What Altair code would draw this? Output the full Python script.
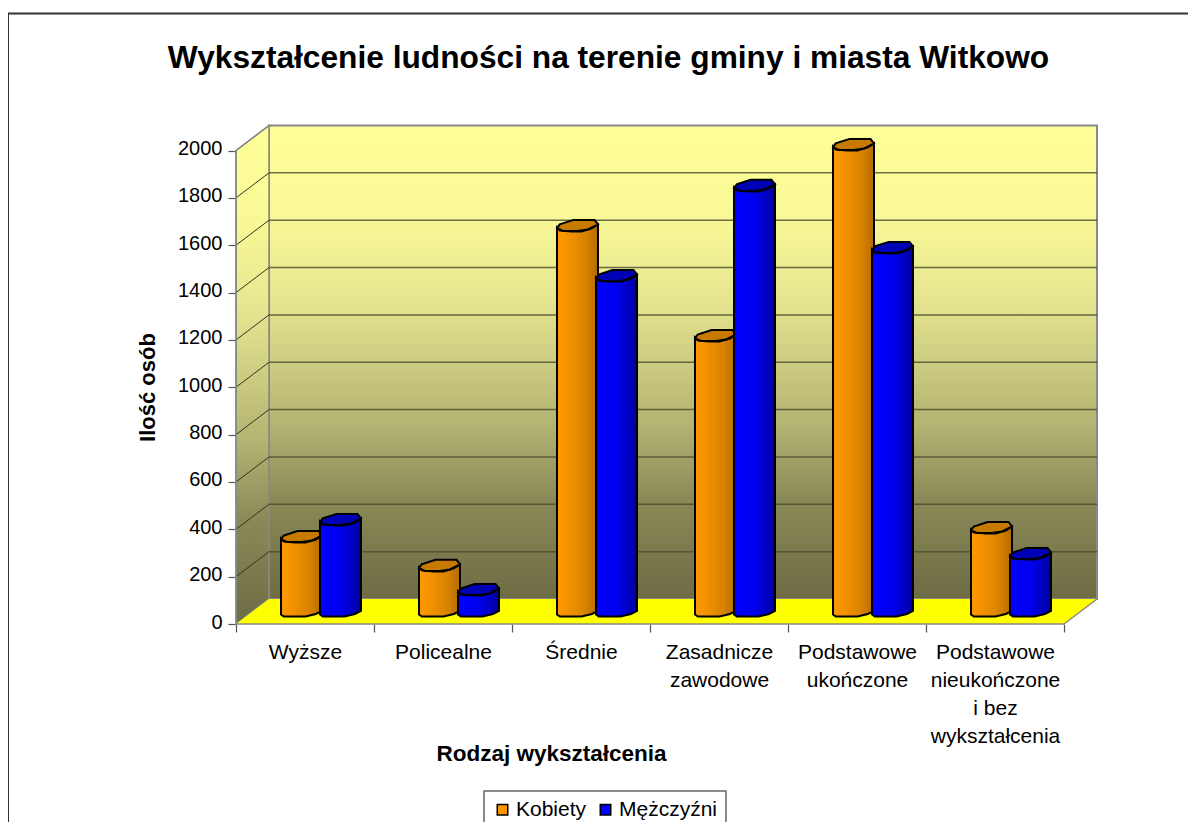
import json
import altair as alt
import pandas as pd

# ---- data ----
categories = ["Wyższe", "Policealne", "Średnie", "Zasadnicze\nzawodowe", "Podstawowe\nukończone",
              "Podstawowe\nnieukończone\ni bez\nwykształcenia"]
kobiety = [321, 199, 1635, 1170, 1977, 359]
mezczyzni = [393, 97, 1423, 1804, 1542, 249]
y_ticks = [0, 200, 400, 600, 800, 1000, 1200, 1400, 1600, 1800, 2000]
SERIES = ["Kobiety", "Mężczyźni"]
TITLE = "Wykształcenie ludności na terenie gminy i miasta Witkowo"

# ---- geometry of the fake 3D frame, in data units ----
PX_X = 138.0
PX_Y = 473.5 / 2000
W, H = 861, 498
D_X = 33 / PX_X
D_Y = 25 / PX_Y
X_MAX = W / PX_X
Y_MAX = H / PX_Y
BASE = 11.5 / PX_Y
BAR_W = 41 / PX_X
OFFS = {"Kobiety": 45 / PX_X, "Mężczyźni": 84 / PX_X}
FONT = "Liberation Sans"

sx = alt.Scale(domain=[0, X_MAX], nice=False, zero=False)
sy = alt.Scale(domain=[0, Y_MAX], nice=False, zero=False)

mid = {str(i + 0.5): c.split("\n") for i, c in enumerate(categories)}
label_expr = "(" + json.dumps(mid, ensure_ascii=False) + ")[''+datum.value] || ''"
x_vals = [i / 2 for i in range(13)]

X_AXIS = alt.Axis(
    title="Rodzaj wykształcenia", values=x_vals, labelExpr=label_expr, grid=False, domain=False,
    tickSize=8, tickColor="#555555", tickWidth=1.2,
    tickOpacity={"condition": {"test": "datum.value % 1 == 0", "value": 1}, "value": 0},
    labelAngle=0, labelAlign="center", labelBaseline="top", labelFont=FONT, labelFontSize=21,
    labelColor="black", labelLineHeight=28, labelPadding=9, labelOverlap=False, labelFlush=False,
    labelBound=False, titleFont=FONT, titleFontSize=22.5, titleFontWeight="bold", titleColor="black",
    titleX=315, titleY=129, titleAnchor="middle", titleAlign="center", titleBaseline="middle")
Y_AXIS = alt.Axis(
    title="Ilość osób", values=y_ticks, grid=False, domain=False, tickSize=8, tickColor="#555555",
    tickWidth=1.2, labelFont=FONT, labelFontSize=20, labelColor="black", labelPadding=6, labelOffset=-2,
    labelOverlap=False, labelFlush=False, labelBound=False, format="d",
    titleFont=FONT, titleFontSize=22, titleFontWeight="bold", titleColor="black", titleAngle=270,
    titleX=-89, titleY=261, titleAnchor="middle", titleAlign="center", titleBaseline="middle")


def X(f="x"):
    return alt.X(f"{f}:Q", scale=sx, axis=X_AXIS)


def Y(f="y"):
    return alt.Y(f"{f}:Q", scale=sy, axis=Y_AXIS)


def grad(stops, horizontal=False):
    return alt.Gradient(gradient="linear", x1=0, y1=0, x2=1 if horizontal else 0, y2=0 if horizontal else 1,
                        stops=[alt.GradientStop(offset=o, color=c) for o, c in stops])


WALL = [(0, "#FFFF99"), (0.2, "#F8F896"), (0.37, "#E5E590"), (0.63, "#B4B473"), (0.79, "#8A8A58"), (1, "#6E6C44")]

# side wall
side = pd.DataFrame({"x": [0, D_X], "y": [0, D_Y], "y2": [2000, 2000 + D_Y]})
side_l = alt.Chart(side).mark_area(color=grad(WALL), stroke="#888888", strokeWidth=1.5).encode(
    x=X(), y=Y(), y2="y2:Q")

# back wall
back = pd.DataFrame({"x": [D_X], "x2": [6 + D_X], "y": [D_Y], "y2": [2000 + D_Y]})
back_l = alt.Chart(back).mark_rect(color=grad(WALL), stroke="#888888", strokeWidth=2).encode(
    x=X(), x2="x2:Q", y=Y(), y2="y2:Q")

# floor
floor = pd.DataFrame({"x": [0, D_X, 6, 6 + D_X], "y": [0, 0, 0, D_Y], "y2": [0, D_Y, D_Y, D_Y]})
floor_l = alt.Chart(floor).mark_area(color="#FFFF00").encode(x=X(), y=Y(), y2="y2:Q")

# gridlines
grid_vals = [v for v in y_ticks if 0 < v < 2000]
back_grid = pd.DataFrame({"x": D_X, "x2": 6 + D_X, "y": [v + D_Y for v in grid_vals]})
back_grid_l = alt.Chart(back_grid).mark_rule(color="#4A4A30", strokeWidth=1.5, opacity=0.8).encode(
    x=X(), x2="x2:Q", y=Y())
side_grid = pd.DataFrame({"x": 0.0, "x2": D_X, "y": grid_vals, "y2": [v + D_Y for v in grid_vals]})
side_grid_l = alt.Chart(side_grid).mark_rule(color="#33331F", strokeWidth=1).encode(
    x=X(), x2="x2:Q", y=Y(), y2="y2:Q")

# frame edges of the plot
edges = pd.DataFrame({"x": [0, 0, 6, 0], "x2": [6, 0, 6 + D_X, D_X], "y": [0, 0, 0, 2000],
                      "y2": [0, 2000, D_Y, 2000 + D_Y]})
edges_l = alt.Chart(edges).mark_rule(color="#888888", strokeWidth=1.5).encode(
    x=X(), x2="x2:Q", y=Y(), y2="y2:Q")

# silhouette of a cylinder: fraction across, offset of lower cap edge and of base edge (pixels)
PROFILE_T = [0.0, 0.07, 0.35, 0.6, 0.85, 1.0]
CAP_PX = [-2.0, -5.0, -6.0, -6.0, -3.0, 1.0]
BOT_PX = [-2.0, -4.0, -4.0, -4.0, -1.5, 1.5]

CAP_SHAPE = "M-1,0.14 L-0.87,-0.05 L-0.19,-0.27 L0.83,-0.27 L1,-0.05 L0.5,0.2 L0,0.27 L-0.7,0.27 Z"


def series_layers(name, values, stops, top_color):
    rows, caps = [], []
    for i, v in enumerate(values):
        x0 = i + OFFS[name]
        for t, c, b in zip(PROFILE_T, CAP_PX, BOT_PX):
            rows.append({"bar": i, "x": x0 + t * BAR_W, "y": BASE + v + c / PX_Y, "y2": BASE + b / PX_Y})
        caps.append({"x": x0 + BAR_W / 2, "y": BASE + v})
    body = alt.Chart(pd.DataFrame(rows)).mark_area(
        color=grad(stops, True), stroke="black", strokeWidth=2).encode(
        x=X(), y=Y(), y2="y2:Q", detail="bar:N")
    cap = alt.Chart(pd.DataFrame(caps)).mark_point(
        shape=CAP_SHAPE, size=BAR_W ** 2 * PX_X ** 2, filled=True, fill=top_color, stroke="black",
        strokeWidth=2, opacity=1).encode(x=X(), y=Y())
    return [body, cap]


orange = series_layers("Kobiety", kobiety,
                       [(0, "#FF9900"), (0.25, "#F59300"), (0.7, "#D88200"), (1, "#B36B00")], "#C67A00")
blue = series_layers("Mężczyźni", mezczyzni,
                     [(0, "#0000FF"), (0.5, "#0000F0"), (0.75, "#0000C8"), (1, "#00009C")], "#0000B4")

# legend carrier
legend_df = pd.DataFrame({"x": [0.5, 1.5], "y": [0, 0], "s": SERIES})
axes_l = alt.Chart(legend_df).mark_point(filled=True, size=0, opacity=0).encode(
    x=X(), y=Y(),
    color=alt.Color("s:N", scale=alt.Scale(domain=SERIES, range=["#FF9900", "#0000FF"]), legend=alt.Legend(
        orient="none", legendX=248, legendY=665, direction="horizontal", columns=2, title=None,
        symbolType="square", symbolSize=110, symbolStrokeColor="black", symbolStrokeWidth=1.5,
        symbolOpacity=1, labelFont=FONT, labelFontSize=21, labelColor="black", columnPadding=8,
        labelOffset=3, padding=8, strokeColor="#666666", fillColor="white")))

# outer chart border (left and top only are visible)
border = pd.DataFrame({"i": [0]})
top_rule = alt.Chart(border).mark_rule(color="#333333", strokeWidth=2).encode(
    x=alt.value(-228), x2=alt.value(952), y=alt.value(-112.5))
left_rule = alt.Chart(border).mark_rule(color="#333333", strokeWidth=2).encode(
    x=alt.value(-228), y=alt.value(-112.5), y2=alt.value(704))

chart = alt.layer(
    axes_l, back_l, side_l, floor_l, back_grid_l, side_grid_l, edges_l,
    *orange, *blue, top_rule, left_rule,
).properties(
    width=W, height=H,
    title=alt.TitleParams(TITLE, font=FONT, fontSize=31.7, fontWeight="bold", color="black", anchor="middle",
                          dx=-58, dy=87, offset=0, baseline="alphabetic"),
    autosize=alt.AutoSizeParams(type="none"),
    padding={"left": 228, "top": 118, "right": 91, "bottom": 198},
    background="white",
).configure_view(stroke=None).configure_legend(strokeWidth=1.5)

chart.save("out.html", embed_options={"renderer": "svg", "actions": False})
